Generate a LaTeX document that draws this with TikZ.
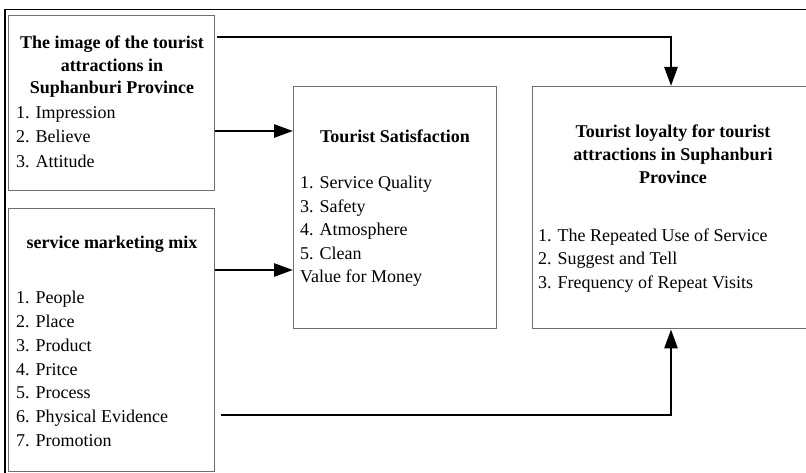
\documentclass[tikz,border=0pt]{standalone}
\usepackage{fontspec}
\setmainfont{Liberation Serif}
\usetikzlibrary{arrows.meta}
\definecolor{boxgray}{HTML}{6E6E6E}
\begin{document}
\begin{tikzpicture}[x=1pt,y=-1pt,
  box/.style={draw=boxgray, line width=1.4pt, inner sep=0pt, anchor=north west},
  frame/.style={draw=black, line width=1.5pt},
  arr/.style={draw=black, line width=2.6pt, -{Triangle[length=19pt,width=13pt]}},
  ttl/.style={font=\fontsize{18}{22}\selectfont\bfseries, anchor=base, inner sep=0pt},
  itm/.style={font=\fontsize{18}{22}\selectfont, anchor=base west, inner sep=0pt}]
\useasboundingbox (0,0) rectangle (806,473);
% outer frame (cropped)
\draw[frame] (5,473) -- (5,9.5) -- (806,9.5);
% boxes
\node[box, minimum width=206pt, minimum height=175pt] (A) at (8,15) {};
\node[box, minimum width=206pt, minimum height=263pt] (B) at (8,208) {};
\node[box, minimum width=203pt, minimum height=242pt] (C) at (293,86) {};
\node[box, minimum width=283pt, minimum height=242pt] (D) at (532,86) {};
% box A text
\foreach \y/\t [count=\i] in {49/The image of the tourist, 72/attractions in, 94/Suphanburi Province}
  \node[ttl] (at\i) at (112,\y) {\t};
\foreach \y/\t [count=\i] in {119/1. Impression, 143/2. Believe, 168/3. Attitude}
  \node[itm] (ai\i) at (16,\y) {\t};
% box B text
\node[ttl] (bt1) at (112,249) {service marketing mix};
\foreach \y/\t [count=\i] in {303/1. People, 327/2. Place, 351/3. Product, 375/4. Pritce, 398/5. Process, 422/6. Physical Evidence, 446/7. Promotion}
  \node[itm] (bi\i) at (16,\y) {\t};
% box C text
\node[ttl] (ct1) at (395,143) {Tourist Satisfaction};
\foreach \y/\t [count=\i] in {189/1. Service Quality, 213/3. Safety, 236/4. Atmosphere, 259/5. Clean, 283/Value for Money}
  \node[itm] (ci\i) at (300,\y) {\t};
% box D text
\foreach \y/\t [count=\i] in {138/Tourist loyalty for tourist, 161/attractions in Suphanburi, 184/Province}
  \node[ttl] (dt\i) at (673,\y) {\t};
\foreach \y/\t [count=\i] in {242/1. The Repeated Use of Service, 265/2. Suggest and Tell, 288/3. Frequency of Repeat Visits}
  \node[itm] (di\i) at (538,\y) {\t};
% connectors
\coordinate (jA) at (671,37);
\coordinate (jB) at (671,415);
\coordinate (yA) at (0,131);
\coordinate (yB) at (0,270);
\draw[arr, shorten <=2pt] (A.east |- jA) -- (jA) -- (D.north -| jA);
\draw[arr] (A.east |- yA) -- (C.west |- yA);
\draw[arr] (B.east |- yB) -- (C.west |- yB);
\draw[arr, shorten <=6pt] (B.east |- jB) -- (jB) -- (D.south -| jB);
\end{tikzpicture}
\end{document}
